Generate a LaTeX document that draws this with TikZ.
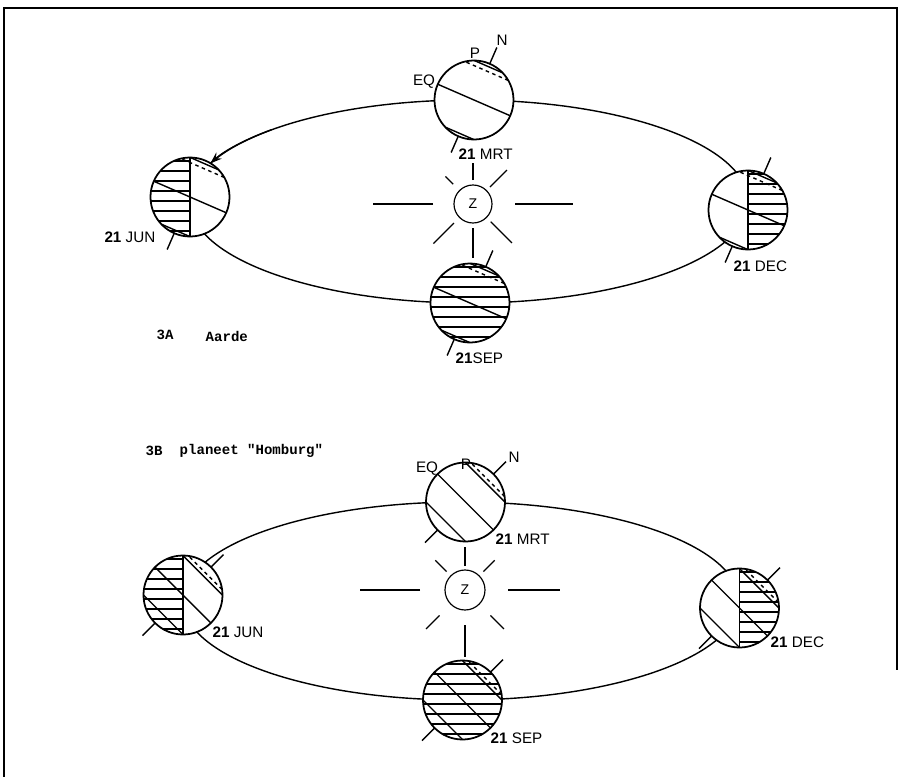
\documentclass[tikz,border=0pt]{standalone}
\usepackage{fontspec}
\setsansfont{Liberation Sans}
\newfontfamily\typfont{Liberation Mono}
\usetikzlibrary{arrows.meta}

% one planet: #1 centre, #2 tilt of the axis, #3 polar circle (sin of latitude),
% #4/#5 x range of the night hatching, #6 angles of the axis ticks
\def\R{39.5}
\newcommand{\globe}[6]{%
  \begin{scope}[shift={#1}]
    \fill[white] (0,0) circle (\R);
    \begin{scope}
      \clip (0,0) circle (\R);
      \foreach \y in {-34,-24,...,36}
        \draw[hatch] (#4,\y) -- (#5,\y);
    \end{scope}
    \begin{scope}[rotate=#2-90]
      \pgfmathsetmacro\pc{asin(#3)}
      \pgfmathsetmacro\pd{asin(0.8)}
      \draw (180:\R) -- (0:\R);
      \draw (\pc:\R) -- (180-\pc:\R);
      \draw (-\pc:\R) -- (180+\pc:\R);
      \draw[dashed] (\pd:\R) -- (180-\pd:\R);
      \foreach \a in {#6}
        \draw (\a:\R) -- (\a:1.45*\R);
    \end{scope}
    \draw[rim] (0,0) circle (\R);
  \end{scope}}

\begin{document}
\begin{tikzpicture}[x=0.03cm,y=0.03cm,line width=1.2pt]
  \tikzstyle{hatch}=[line width=1pt]
  \tikzstyle{rim}=[line width=1.5pt]
  \tikzstyle{ray}=[line width=1pt]
  \tikzstyle{date}=[font=\sffamily\fontsize{13}{15}\selectfont,inner sep=0pt]
  \tikzstyle{title}=[font=\typfont\bfseries\fontsize{12}{14}\selectfont,inner sep=0pt]

  \useasboundingbox (0,0) rectangle (915,-777);

  % FRAME
  \draw (4,-777) -- (4,-8) -- (897,-8) -- (897,-670);

  % 3A AARDE
  \draw (469,-201.5) ellipse [x radius=279, y radius=101.5];
  \draw[-{Stealth[length=10pt,width=7pt]}] (271.7,-129.7)
    arc[start angle=135, end angle=158, x radius=279, y radius=101.5];

  \draw[ray] (473,-204) circle (19);
  \node[font=\sffamily\fontsize{12}{14}\selectfont] (zonA) at (473,-204) {Z};
  \foreach \a/\r/\s in {0/42/100, 180/40/100, 90/24/41, -90/24/54,
                        45/24/48, 135/28/39, 225/27/56, -45/25/55}
    \draw[ray] (473,-204) ++(\a:\r) -- ++(\a:\s-\r);

  \globe{(474,-100)}{66.5}{0.92}{0}{0}{90,-90}
  \globe{(190,-197)}{66.5}{0.92}{-40}{0}{-90}
  \globe{(748,-210)}{66.5}{0.92}{0}{40}{90,-90}
  \globe{(470,-303)}{66.5}{0.92}{-40}{40}{90,-90}
  \draw (190,-157.5) -- (190,-236.5);
  \draw (748,-170.5) -- (748,-249.5);

  \node[date] (eqA) at (424,-82) {EQ};
  \node[date] (pA) at (475,-53) {P};
  \node[date] (nA) at (502,-40) {N};
  \node[date,anchor=west] (mrtA) at (458,-154) {\textbf{21} MRT};
  \node[date,anchor=east] (junA) at (156,-237) {\textbf{21} JUN};
  \node[date,anchor=west] (decA) at (733,-266) {\textbf{21} DEC};
  \node[date,anchor=west] (sepA) at (455,-358) {\textbf{21}SEP};

  \node[title,anchor=west] (numA) at (156,-335) {3A};
  \node[title,anchor=west] (nameA) at (205,-336) {Aarde};

  % 3B HOMBURG
  \draw (461,-601) ellipse [x radius=278, y radius=99];

  \draw[ray] (465,-590) circle (20);
  \node[font=\sffamily\fontsize{12}{14}\selectfont] (zonB) at (465,-590) {Z};
  \foreach \a/\r/\s in {0/43/95, 180/45/105, 90/24/43, -90/35/67,
                        45/26/42, 135/26/42, 225/36/55, -45/36/55}
    \draw[ray] (465,-590) ++(\a:\r) -- ++(\a:\s-\r);

  \globe{(465.5,-502)}{45}{0.707}{0}{0}{90,-90}
  \globe{(183,-595)}{45}{0.707}{-40}{0}{90,-90}
  \globe{(739.5,-608)}{45}{0.707}{0}{40}{90,-90}
  \globe{(462.5,-700)}{45}{0.707}{-40}{40}{90,-90}
  \draw (183,-555.5) -- (183,-634.5);
  \draw (739.5,-568.5) -- (739.5,-647.5);

  \node[date] (eqB) at (427,-469) {EQ};
  \node[date] (pB) at (466,-464) {P};
  \node[date] (nB) at (514,-457) {N};
  \node[date,anchor=west] (mrtB) at (495,-539) {\textbf{21} MRT};
  \node[date,anchor=west] (junB) at (212,-632) {\textbf{21} JUN};
  \node[date,anchor=west] (decB) at (770,-642) {\textbf{21} DEC};
  \node[date,anchor=west] (sepB) at (490,-738) {\textbf{21} SEP};

  \node[title,anchor=west] (numB) at (145,-451) {3B};
  \node[title,anchor=west] (nameB) at (179,-451) {planeet "Homburg"};
\end{tikzpicture}
\end{document}
